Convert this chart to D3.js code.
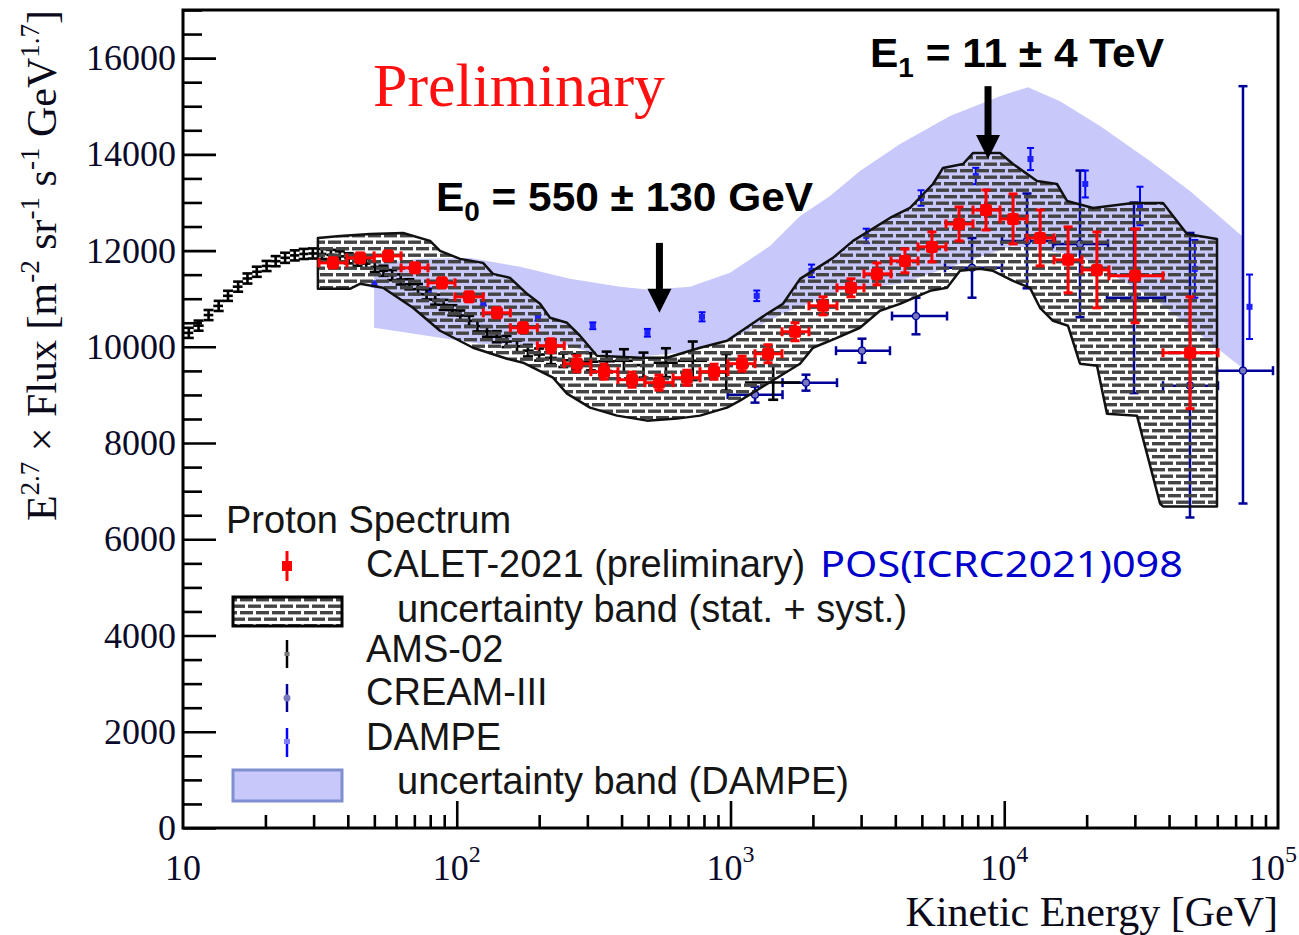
<!DOCTYPE html>
<html>
<head>
<meta charset="utf-8">
<script src="https://cdn.jsdelivr.net/npm/d3@7"></script>
<style>
  body { margin: 0; background: #fff; }
  svg { display: block; }
</style>
</head>
<body>
<svg id="chart"></svg>
<script>
// ---------- data (E in GeV, flux in E^2.7 units) ----------
const calE = [35.3, 44.4, 56.1, 70.4, 88.3, 110.9, 140.3, 174.5, 220.9, 274.8,
  345.1, 436.8, 548, 693, 871, 1102, 1371, 1721, 2179, 2755,
  3427, 4338, 5442, 6837, 8576, 10770, 13520, 17110, 21800, 30060, 47740];
const calF = [11745, 11848, 11890, 11641, 11330, 11039, 10707, 10396, 10022, 9649,
  9483, 9317, 9255, 9358, 9483, 9649, 9856, 10313, 10852, 11226,
  11516, 11786, 12077, 12554, 12844, 12658, 12263, 11807, 11599, 11475, 9877];
const calErr = [104, 104, 104, 104, 104, 104, 104, 104, 145, 166,
  156, 156, 156, 156, 156, 156, 187, 187, 187, 187,
  228, 249, 311, 353, 415, 519, 581, 685, 789, 975, 1162];
const calEdges = [31.4, 39.7, 49.9, 62.6, 78.5, 98.5, 125, 157, 197, 247, 309, 388,
  487, 617, 774, 979, 1229, 1542, 1935, 2449, 3073, 3857, 4841, 6126, 7689,
  9650, 12110, 15200, 19230, 24130, 38010, 60380];

// CALET stat+syst band
const calBandUpE = [31.1, 37.5, 48.2, 63.7, 79.9, 86.9, 102.8, 124.7, 135.6, 156.5, 180.6,
  201.5, 219.1, 252.8, 282, 325.3, 467, 586, 774, 971, 1359, 1555, 1795, 2368, 2803,
  3824, 4526, 5492, 5974, 7068, 7687, 9650, 10766, 13170, 15580, 16950, 21100, 29540,
  38010, 46520, 59870];
const calBandUpF = [12263, 12305, 12346, 12367, 12201, 11994, 11828, 11745, 11516, 11433, 11101,
  10894, 10603, 10500, 10230, 9815, 9773, 9773, 9981, 10126, 10686, 10894, 11413, 11848, 12201,
  12678, 12886, 13384, 13716, 13799, 14027, 14027, 13799, 13446, 13384, 13031, 12886, 12990,
  12990, 12346, 12243];
const calBandLoE = [31.1, 40.7, 44.3, 53.8, 69.2, 86.9, 114.7, 152.6, 174.6, 224.7, 252.8,
  306.8, 384.9, 495.5, 637.7, 774, 971, 1083, 1795, 2002, 2449, 2972, 3516, 4161, 5357,
  6178, 6893, 8154, 9097, 10766, 12419, 13509, 15070, 17100, 18910, 21820, 23730, 30540,
  37070, 38010, 59870];
const calBandLoF = [11205, 11205, 11309, 11226, 10811, 10334, 9981, 9753, 9670, 9358, 9026,
  8736, 8570, 8466, 8508, 8570, 8736, 8881, 9649, 9981, 10188, 10396, 10749, 10894, 11164,
  11226, 11579, 11620, 11579, 11371, 11226, 10811, 10541, 10437, 9649, 9607, 8611, 8570,
  6744, 6682, 6682];

// AMS-02
const amsEdges = [10.0, 10.9, 11.9, 12.9, 14.0, 15.2, 16.5, 17.9, 19.4, 21.0, 22.7, 24.6,
  26.6, 28.7, 31.0, 33.4, 36.0, 38.8, 41.8, 45.0, 48.4, 52.1, 56.0, 60.2, 64.7, 69.6,
  74.8, 80.4, 86.4, 92.9, 99.9, 107, 115, 124, 134, 146, 159, 174, 191, 210, 232, 258,
  290, 329, 378, 440, 524, 642, 821, 1129, 1799];
const amsE = [10.5, 11.4, 12.4, 13.5, 14.6, 15.9, 17.2, 18.6, 20.2, 21.8, 23.6, 25.6,
  27.6, 29.8, 32.2, 34.7, 37.4, 40.3, 43.4, 46.7, 50.2, 54.0, 58.1, 62.4, 67.1, 72.2,
  77.6, 83.4, 89.6, 96.4, 103, 111, 119, 129, 140, 152, 166, 182, 200, 221, 245, 273,
  309, 353, 408, 481, 581, 728, 965, 1432];
const amsF = [10290, 10440, 10660, 10850, 11060, 11250, 11420, 11560, 11680, 11780, 11850, 11900,
  11930, 11940, 11930, 11910, 11880, 11840, 11790, 11730, 11660, 11580, 11490, 11400, 11300, 11200,
  11090, 10980, 10870, 10760, 10650, 10540, 10430, 10320, 10210, 10110, 10010, 9920, 9840, 9770,
  9720, 9690, 9690, 9700, 9710, 9620, 9670, 9710, 9470, 9260];
const amsErr = [105, 105, 105, 105, 105, 105, 105, 105, 105, 105, 105, 105,
  105, 105, 105, 105, 105, 105, 105, 105, 105, 105, 105, 105, 105, 105,
  105, 105, 105, 105, 105, 105, 110, 110, 115, 115, 120, 120, 125, 130,
  140, 160, 180, 200, 240, 260, 300, 400, 380, 360];

// CREAM-III
const creamE = [1229, 1887, 3022, 4760, 7625, 12110, 18910, 29790, 47700, 74490];
const creamLo = [977, 1549, 2429, 3890, 6075, 9812, 15070, 23730, 38010, 59870];
const creamHi = [1549, 2449, 3824, 6180, 9812, 15320, 23930, 38660, 60380, 95870];
const creamF = [9006, 9255, 9919, 10640, 11641, 12201, 12139, 11018, 9192, 9504];
const creamErrLo = [166, 166, 250, 380, 620, 985, 1525, 1980, 2739, 2760];
const creamErrHi = [166, 166, 250, 380, 620, 985, 1525, 1980, 3175, 5913];

// DAMPE
const dampeE = [50, 79, 125, 198, 314, 497, 787, 1247, 1977, 3133, 4966, 7870,
  12470, 19770, 31330, 49660, 78700];
const dampeF = [11309, 11164, 10914, 10603, 10437, 10292, 10624, 11060, 11579, 12305, 13093, 13550,
  13903, 13384, 12927, 11620, 10832];
const dampeErr = [50, 50, 55, 60, 70, 80, 95, 110, 130, 150, 160, 170, 230, 280, 400, 600, 670];

// DAMPE uncertainty band
const dampeBandUpE = [49.9, 73.4, 111.8, 170.3, 259.2, 394.8, 508, 711.4, 995.9, 1394, 1795,
  2310, 2973, 4162, 6337, 9650, 12216, 15983, 22380, 34070, 47700, 73870];
const dampeBandUpF = [11724, 11828, 11848, 11662, 11413, 11247, 11184, 11247, 11537, 12097, 12720,
  13135, 13654, 14214, 14795, 15210, 15397, 15106, 14587, 13861, 13239, 12305];
const dampeBandLoE = [49.9, 121.6, 252.8, 384.9, 654, 1021, 1555, 2512, 4162, 10766, 18910,
  36140, 73870];
const dampeBandLoF = [10396, 10064, 10022, 9753, 9877, 10168, 10686, 11164, 11309, 12097, 11890,
  10956, 9566];

// axis ticks
const yTicks = [0, 2000, 4000, 6000, 8000, 10000, 12000, 14000, 16000];
const xTicks = [10, 100, 1000, 10000, 100000];
const xTickExp = ['', '2', '3', '4', '5'];

// annotations: [energy, arrow tip flux, arrow tail flux]
const annoE = [550, 8724];
const annoTip = [10707, 13903];
const annoTail = [12160, 15417];

// ---------- chart ----------
const width = 1299, height = 935;
const margin = {top: 10, right: 21, bottom: 107, left: 183};
const plotW = width - margin.left - margin.right;
const plotH = height - margin.top - margin.bottom;

const svg = d3.select('#chart')
    .attr('width', width)
    .attr('height', height);

const x = d3.scaleLog().domain([10, 1e5]).range([margin.left, margin.left + plotW]);
const y = d3.scaleLinear().domain([0, 17000]).range([margin.top + plotH, margin.top]);

// hatch pattern for the CALET band
const defs = svg.append('defs');
const pat = defs.append('pattern')
    .attr('id', 'hatch')
    .attr('patternUnits', 'userSpaceOnUse')
    .attr('width', 32)
    .attr('height', 13);
[[0, 0], [16, 0], [-8, 6.5], [8, 6.5], [24, 6.5]].forEach(p => {
  pat.append('rect')
      .attr('x', p[0]).attr('y', p[1])
      .attr('width', 13).attr('height', 3.4)
      .attr('fill', '#444');
});

const line = d3.line().x(d => x(d[0])).y(d => y(d[1]));

function bandPoints(upE, upF, loE, loF) {
  const up = upE.map((e, i) => [e, upF[i]]);
  const lo = loE.map((e, i) => [e, loF[i]]).reverse();
  return up.concat(lo);
}

const marks = svg.append('g');

// DAMPE band
marks.append('path')
    .attr('d', line(bandPoints(dampeBandUpE, dampeBandUpF, dampeBandLoE, dampeBandLoF)) + 'Z')
    .attr('fill', '#c8c8fa')
    .attr('stroke', 'none');

// generic error-bar helpers
function vbar(g, cx, y1, y2, cap, color, w) {
  g.append('line').attr('x1', cx).attr('x2', cx).attr('y1', y1).attr('y2', y2)
      .attr('stroke', color).attr('stroke-width', w);
  if (cap > 0) {
    [y1, y2].forEach(yy => g.append('line')
        .attr('x1', cx - cap / 2).attr('x2', cx + cap / 2).attr('y1', yy).attr('y2', yy)
        .attr('stroke', color).attr('stroke-width', w));
  }
}
function hbar(g, cy, x1, x2, cap, color, w) {
  g.append('line').attr('x1', x1).attr('x2', x2).attr('y1', cy).attr('y2', cy)
      .attr('stroke', color).attr('stroke-width', w);
  if (cap > 0) {
    [x1, x2].forEach(xx => g.append('line')
        .attr('x1', xx).attr('x2', xx).attr('y1', cy - cap / 2).attr('y2', cy + cap / 2)
        .attr('stroke', color).attr('stroke-width', w));
  }
}

// CREAM-III
const creamG = marks.append('g').attr('class', 'cream');
creamE.forEach((e, i) => {
  const cx = x(e), cy = y(creamF[i]);
  hbar(creamG, cy, x(creamLo[i]), x(creamHi[i]), 9, '#000099', 2.5);
  vbar(creamG, cx, y(creamF[i] + creamErrHi[i]), y(creamF[i] - creamErrLo[i]), 9, '#000099', 2.5);
  creamG.append('circle').attr('cx', cx).attr('cy', cy).attr('r', 3.5)
      .attr('fill', '#7878c0').attr('stroke', '#000099').attr('stroke-width', 1.2);
});

// DAMPE points
const dampeG = marks.append('g').attr('class', 'dampe');
dampeE.forEach((e, i) => {
  const cx = x(e), cy = y(dampeF[i]);
  vbar(dampeG, cx, y(dampeF[i] + dampeErr[i]), y(dampeF[i] - dampeErr[i]), 7, '#0000ff', 2);
  dampeG.append('rect').attr('x', cx - 3).attr('y', cy - 3).attr('width', 6).attr('height', 6)
      .attr('fill', '#2020ff');
});

// AMS-02 points
const amsG = marks.append('g').attr('class', 'ams');
amsE.forEach((e, i) => {
  const cx = x(e), cy = y(amsF[i]);
  hbar(amsG, cy, x(amsEdges[i]), x(amsEdges[i + 1]), 0, '#000', 2.6);
  vbar(amsG, cx, y(amsF[i] + amsErr[i]), y(amsF[i] - amsErr[i]), 10, '#000', 2.6);
});

// CALET band
marks.append('path')
    .attr('d', line(bandPoints(calBandUpE, calBandUpF, calBandLoE, calBandLoF)) + 'Z')
    .attr('fill', 'url(#hatch)')
    .attr('stroke', '#111')
    .attr('stroke-width', 2.5)
    .attr('stroke-linejoin', 'round');

// CALET points
const calG = marks.append('g').attr('class', 'calet');
calE.forEach((e, i) => {
  const cx = x(e), cy = y(calF[i]);
  hbar(calG, cy, x(calEdges[i]), x(calEdges[i + 1]), 9, '#ff0000', 3);
  vbar(calG, cx, y(calF[i] + calErr[i]), y(calF[i] - calErr[i]), 9, '#ff0000', 3);
  calG.append('rect').attr('x', cx - 6).attr('y', cy - 6).attr('width', 12).attr('height', 12)
      .attr('rx', 2.5).attr('fill', '#ff0000');
});

// ---------- axes ----------
const yMinor = d3.range(0, 17001, 500).filter(v => v % 2000 !== 0);
const xMinor = [];
[10, 100, 1000, 10000].forEach(d => d3.range(2, 10).forEach(k => xMinor.push(d * k)));

const axisStyle = g => {
  g.select('.domain').remove();
  g.selectAll('.tick line').attr('stroke', '#000').attr('stroke-width', 2.6);
};

svg.append('g')
    .attr('transform', `translate(${margin.left},0)`)
    .call(d3.axisLeft(y).tickValues(yTicks).tickSize(-33).tickPadding(7).tickFormat(d3.format('d')))
    .call(axisStyle)
    .call(g => g.selectAll('text')
        .attr('font-family', '"Liberation Serif", "Times New Roman", serif')
        .attr('font-size', 36)
        .attr('fill', '#0a0a2a'));

svg.append('g')
    .attr('transform', `translate(${margin.left},0)`)
    .call(d3.axisLeft(y).tickValues(yMinor).tickSize(-19).tickFormat(''))
    .call(axisStyle);

svg.append('g')
    .attr('transform', `translate(0,${margin.top + plotH})`)
    .call(d3.axisBottom(x).tickValues(xTicks.slice(1, 4)).tickSize(-27).tickFormat(''))
    .call(axisStyle);

svg.append('g')
    .attr('transform', `translate(0,${margin.top + plotH})`)
    .call(d3.axisBottom(x).tickValues(xMinor).tickSize(-13).tickFormat(''))
    .call(axisStyle);

// x tick labels with superscripts (last one kept inside the page)
const xLab = svg.append('g')
    .attr('font-family', '"Liberation Serif", "Times New Roman", serif')
    .attr('fill', '#0a0a2a');
xTicks.forEach((t, i) => {
  const last = i === xTicks.length - 1;
  const txt = xLab.append('text')
      .attr('x', last ? width - 2 : x(t))
      .attr('y', 880)
      .attr('text-anchor', last ? 'end' : 'middle')
      .attr('font-size', 36);
  txt.append('tspan').text('10');
  if (xTickExp[i]) {
    txt.append('tspan').attr('dy', -18).attr('font-size', 24).text(xTickExp[i]);
  }
});

// frame
svg.append('rect')
    .attr('x', margin.left).attr('y', margin.top)
    .attr('width', plotW).attr('height', plotH)
    .attr('fill', 'none').attr('stroke', '#000').attr('stroke-width', 3);

// axis titles
svg.append('text')
    .attr('x', margin.left + plotW)
    .attr('y', 926)
    .attr('text-anchor', 'end')
    .attr('font-family', '"Liberation Serif", "Times New Roman", serif')
    .attr('font-size', 42)
    .attr('fill', '#0a0a1a')
    .text('Kinetic Energy [GeV]');

const yTitle = svg.append('text')
    .attr('transform', 'translate(56,10) rotate(-90)')
    .attr('text-anchor', 'end')
    .attr('font-family', '"Liberation Serif", "Times New Roman", serif')
    .attr('font-size', 42)
    .attr('fill', '#0a0a1a');
const titleParts = [['E', 0], ['2.7', 1], [' \u00d7 Flux [m', 0], ['-2', 1], [' sr', 0], ['-1', 1],
  [' s', 0], ['-1', 1], [' GeV', 0], ['1.7', 1], [']', 0]];
let raised = false;
titleParts.forEach(p => {
  const ts = yTitle.append('tspan').text(p[0]);
  if (p[1] && !raised) { ts.attr('dy', -17).attr('font-size', 27); raised = true; }
  else if (p[1]) { ts.attr('font-size', 27); }
  else if (raised) { ts.attr('dy', 17); raised = false; }
});

// ---------- annotations ----------
svg.append('text')
    .attr('x', 373).attr('y', 106)
    .attr('font-family', '"Liberation Serif", "Times New Roman", serif')
    .attr('font-size', 61)
    .attr('fill', '#ff1010')
    .attr('textLength', 292)
    .attr('lengthAdjust', 'spacingAndGlyphs')
    .text('Preliminary');

function bigLabel(xp, yp, sub, rest, len) {
  const t = svg.append('text')
      .attr('x', xp).attr('y', yp)
      .attr('font-family', '"Liberation Sans", Arial, sans-serif')
      .attr('font-weight', 'bold')
      .attr('font-size', 41)
      .attr('fill', '#000')
      .attr('textLength', len)
      .attr('lengthAdjust', 'spacingAndGlyphs');
  t.append('tspan').text('E');
  t.append('tspan').attr('dy', 10).attr('font-size', 27).text(sub);
  t.append('tspan').attr('dy', -10).text(rest);
}
bigLabel(436, 211, '0', ' = 550 \u00b1 130 GeV', 377);
bigLabel(870, 67, '1', ' = 11 \u00b1 4 TeV', 294);

annoE.forEach((e, i) => {
  const ax = x(e), yTip = y(annoTip[i]), yTail = y(annoTail[i]);
  svg.append('line')
      .attr('x1', ax).attr('x2', ax).attr('y1', yTail).attr('y2', yTip - 20)
      .attr('stroke', '#000').attr('stroke-width', 7);
  svg.append('path')
      .attr('d', `M${ax - 12},${yTip - 24}L${ax + 12},${yTip - 24}L${ax},${yTip}Z`)
      .attr('fill', '#000');
});

// ---------- legend ----------
const leg = svg.append('g')
    .attr('font-family', '"Liberation Sans", Arial, sans-serif')
    .attr('font-size', 38)
    .attr('fill', '#151515');

leg.append('text').attr('x', 226).attr('y', 533).text('Proton Spectrum');
const legRows = [
  {label: 'CALET-2021 (preliminary)', y: 577, tx: 366},
  {label: 'uncertainty band (stat. + syst.)', y: 622, tx: 397},
  {label: 'AMS-02', y: 662, tx: 366},
  {label: 'CREAM-III', y: 705, tx: 366},
  {label: 'DAMPE', y: 750, tx: 366},
  {label: 'uncertainty band (DAMPE)', y: 794, tx: 397}
];
legRows.forEach(r => leg.append('text').attr('x', r.tx).attr('y', r.y).text(r.label));

leg.append('text')
    .attr('x', 820).attr('y', 577)
    .attr('font-family', '"Noto Sans", "Open Sans", sans-serif')
    .attr('font-size', 37)
    .attr('fill', '#0000cc')
    .attr('textLength', 363)
    .attr('lengthAdjust', 'spacingAndGlyphs')
    .text('POS(ICRC2021)098');

// legend symbols
const lx = 287;
vbar(leg, lx, 551, 581, 0, '#ff0000', 3);
leg.append('rect').attr('x', lx - 5).attr('y', 561).attr('width', 10).attr('height', 10).attr('fill', '#ff0000');

leg.append('rect').attr('x', 233).attr('y', 597).attr('width', 109).attr('height', 29)
    .attr('fill', 'url(#hatch)').attr('stroke', '#000').attr('stroke-width', 3);

vbar(leg, lx, 640, 668, 0, '#000', 2.5);
leg.append('rect').attr('x', lx - 2.5).attr('y', 652).attr('width', 5).attr('height', 4).attr('fill', '#777');

vbar(leg, lx, 684, 712, 0, '#000099', 2.5);
leg.append('circle').attr('cx', lx).attr('cy', 698).attr('r', 3.5).attr('fill', '#7878c0');

vbar(leg, lx, 728, 757, 0, '#0000ff', 2.5);
leg.append('rect').attr('x', lx - 3).attr('y', 739).attr('width', 6).attr('height', 5).attr('fill', '#8080ff');

leg.append('rect').attr('x', 233).attr('y', 770).attr('width', 109).attr('height', 31)
    .attr('fill', '#c8c8fa').attr('stroke', '#7f8fd0').attr('stroke-width', 3);
</script>
</body>
</html>
